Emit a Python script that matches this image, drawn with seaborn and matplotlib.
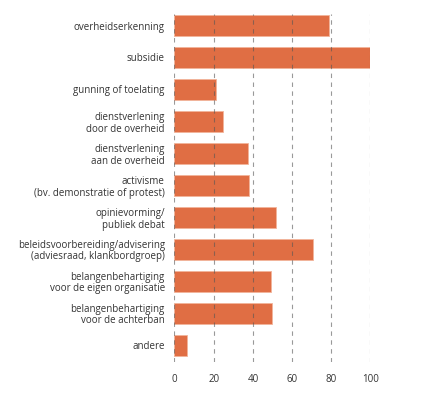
import matplotlib
matplotlib.use("Agg")
import matplotlib.pyplot as plt
import seaborn as sns
import pandas as pd

# categories and percentages
categories = [
    "overheidserkenning",
    "subsidie",
    "gunning of toelating",
    "dienstverlening\ndoor de overheid",
    "dienstverlening\naan de overheid",
    "activisme\n(bv. demonstratie of protest)",
    "opinievorming/\npubliek debat",
    "beleidsvoorbereiding/advisering\n(adviesraad, klankbordgroep)",
    "belangenbehartiging\nvoor de eigen organisatie",
    "belangenbehartiging\nvoor de achterban",
    "andere",
]
values = [79, 100, 21, 25, 37.5, 38, 52, 70.5, 49, 49.5, 6.5]
xticks = [0, 20, 40, 60, 80, 100]

df = pd.DataFrame({"cat": categories, "val": values})

sns.set_style("white")
plt.rcParams["font.family"] = ["Open Sans", "DejaVu Sans"]

fig = plt.figure(figsize=(4.26, 3.96), dpi=100)
ax = fig.add_axes([0.4096, 0.0859, 0.4601, 0.8787])

sns.barplot(data=df, y="cat", x="val", orient="h", color="#E06E44",
            saturation=1, width=0.66, edgecolor="#F2B49A", linewidth=0.6,
            ax=ax, zorder=1)

ax.set_xlim(0, 100)
ax.set_ylim(10.53, -0.36)
ax.set_xticks(xticks)
ax.set_xlabel("")
ax.set_ylabel("")
for x in xticks:
    ax.axvline(x, color="#555555", alpha=0.6, linestyle=(0, (4, 4)),
               linewidth=0.8, zorder=3)

sns.despine(ax=ax, left=True, bottom=True)
ax.tick_params(axis="both", length=0, labelsize=7, colors="#333333")
ax.tick_params(axis="y", pad=7)
ax.tick_params(axis="x", pad=9)
for lbl in ax.get_yticklabels():
    lbl.set_linespacing(1.1)

fig.savefig("out.png", dpi=100)
